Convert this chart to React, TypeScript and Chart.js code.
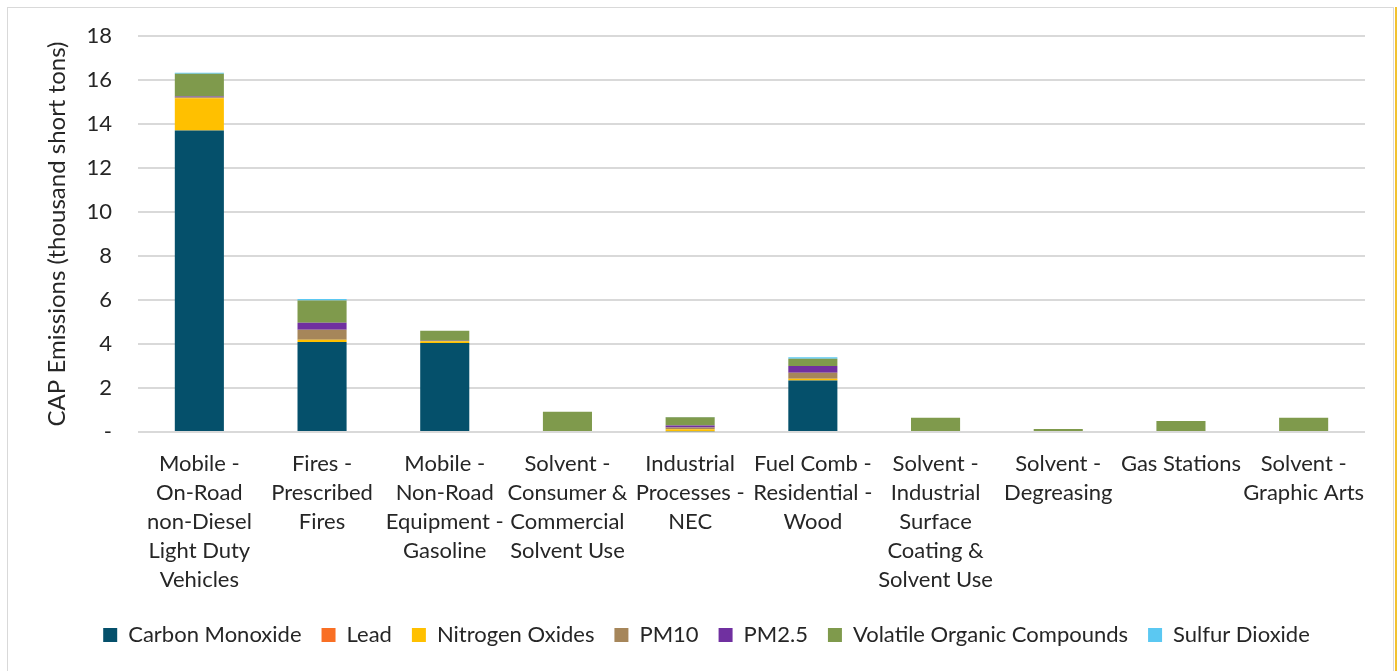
import React, { useEffect, useRef } from "react";
import { Chart, registerables } from "chart.js";

Chart.register(...registerables);

// Source categories (wrapped as they appear under the axis)
const categories: string[][] = [
  ["Mobile -", "On-Road", "non-Diesel", "Light Duty", "Vehicles"],
  ["Fires -", "Prescribed", "Fires"],
  ["Mobile -", "Non-Road", "Equipment -", "Gasoline"],
  ["Solvent -", "Consumer &", "Commercial", "Solvent Use"],
  ["Industrial", "Processes -", "NEC"],
  ["Fuel Comb -", "Residential -", "Wood"],
  ["Solvent -", "Industrial", "Surface", "Coating &", "Solvent Use"],
  ["Solvent -", "Degreasing"],
  ["Gas Stations"],
  ["Solvent -", "Graphic Arts"],
];

// Emissions per pollutant, thousand short tons
const carbonMonoxide = [13.71, 4.09, 4.04, 0, 0.03, 2.34, 0, 0, 0, 0];
const lead = [0, 0, 0, 0, 0, 0, 0, 0, 0, 0];
const nitrogenOxides = [1.46, 0.1, 0.08, 0, 0.09, 0.08, 0, 0, 0, 0];
const pm10 = [0.05, 0.46, 0.02, 0, 0.08, 0.27, 0, 0, 0, 0];
const pm25 = [0.03, 0.32, 0.01, 0, 0.09, 0.31, 0, 0, 0, 0];
const volatileOrganics = [1.03, 1.01, 0.45, 0.92, 0.38, 0.33, 0.65, 0.14, 0.5, 0.65];
const sulfurDioxide = [0.05, 0.06, 0, 0, 0.01, 0.07, 0, 0, 0, 0];

const yTicks = [0, 2, 4, 6, 8, 10, 12, 14, 16, 18];

const FONT = "Lato, 'Open Sans', sans-serif";
const TEXT = "#262626";
const CLEAR = "rgba(0,0,0,0)";

// Nudges the legend row sideways after layout
const legendShift = {
  id: "legendShift",
  afterLayout(chart: any) {
    const lg = chart.legend;
    if (!lg) return;
    lg.left += 20;
    lg.right += 20;
  },
};

export default function App() {
  const canvasRef = useRef<HTMLCanvasElement | null>(null);

  useEffect(() => {
    const canvas = canvasRef.current;
    if (!canvas) return;

    const series = [
      { label: "Carbon Monoxide", data: carbonMonoxide, color: "#05506B" },
      { label: "Lead", data: lead, color: "#F96F24" },
      { label: "Nitrogen Oxides", data: nitrogenOxides, color: "#FFC000" },
      { label: "PM10", data: pm10, color: "#A6865A" },
      { label: "PM2.5", data: pm25, color: "#7030A0" },
      { label: "Volatile Organic Compounds", data: volatileOrganics, color: "#7F9A4C" },
      { label: "Sulfur Dioxide", data: sulfurDioxide, color: "#5BC8F2" },
    ];

    const chart = new Chart(canvas, {
      type: "bar",
      data: {
        labels: categories,
        datasets: series.map((s) => ({
          label: s.label,
          data: s.data,
          backgroundColor: s.color,
          borderWidth: 0,
          barPercentage: 0.4,
          categoryPercentage: 1,
        })),
      },
      plugins: [legendShift],
      options: {
        animation: false,
        responsive: false,
        maintainAspectRatio: false,
        layout: { padding: { left: 0, right: 28, top: 28, bottom: 15 } },
        plugins: {
          tooltip: { enabled: false },
          legend: {
            position: "bottom",
            labels: {
              boxWidth: 14,
              boxHeight: 14,
              padding: 20,
              color: TEXT,
              font: { family: FONT, size: 22 },
            },
          },
        },
        scales: {
          x: {
            stacked: true,
            grid: { display: false, drawTicks: true, tickLength: 17, tickColor: CLEAR },
            border: { display: false },
            ticks: {
              color: TEXT,
              padding: 0,
              maxRotation: 0,
              autoSkip: false,
              font: { family: FONT, size: 22, lineHeight: "29px" },
            },
            afterFit: (scale: any) => {
              scale.height = 172;
            },
          },
          y: {
            stacked: true,
            min: 0,
            max: 18,
            afterBuildTicks: (scale: any) => {
              scale.ticks = yTicks.map((v) => ({ value: v }));
            },
            grid: {
              color: "#d9d9d9",
              lineWidth: 2,
              drawTicks: true,
              tickLength: 26,
              tickColor: CLEAR,
            },
            border: { display: false },
            ticks: {
              color: TEXT,
              padding: 0,
              font: { family: FONT, size: 22 },
              callback: (v: any) => (Number(v) === 0 ? "-" : String(v)),
            },
            title: {
              display: true,
              text: "CAP Emissions (thousand short tons)",
              color: TEXT,
              font: { family: FONT, size: 24 },
              padding: { top: 35, bottom: 0 },
            },
            afterFit: (scale: any) => {
              scale.width = 130;
            },
          },
        },
      },
    });

    return () => chart.destroy();
  }, []);

  return (
    <div
      style={{
        position: "absolute",
        left: 7,
        top: 7,
        width: 1387,
        height: 664,
        borderTop: "1px solid #d9d9d9",
        borderLeft: "1px solid #d9d9d9",
        borderRight: "1px solid #d9d9d9",
        boxSizing: "border-box",
        background: "#fff",
      }}
    >
      <canvas ref={canvasRef} width={1385} height={663} style={{ display: "block" }} />
      <div
        style={{
          position: "absolute",
          left: 1387,
          top: -1,
          width: 2,
          height: 664,
          background: "#F2C230",
        }}
      />
    </div>
  );
}
